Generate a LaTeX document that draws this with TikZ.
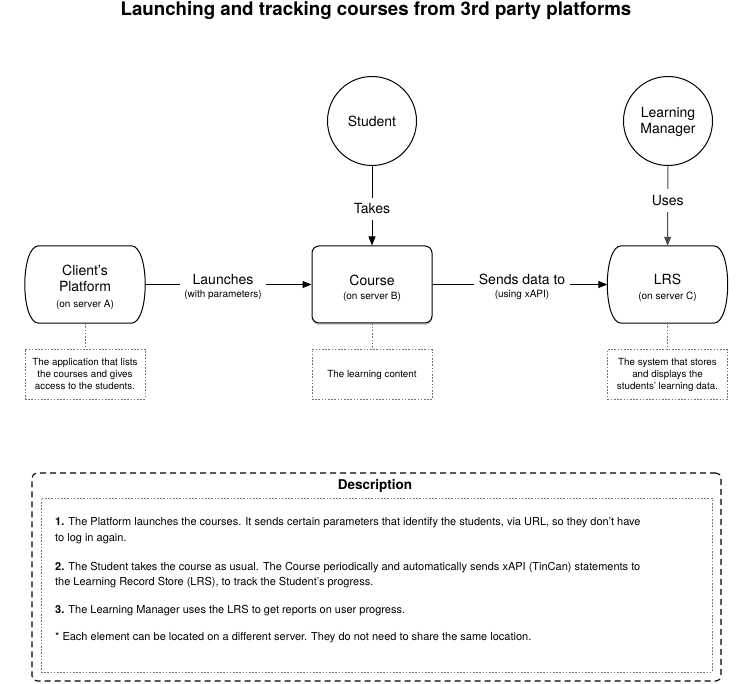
\documentclass[tikz,border=0pt]{standalone}
\usepackage{fontspec}
\setmainfont{TeX Gyre Heros}
\usetikzlibrary{arrows.meta,shadows,calc}
\begin{document}
\begin{tikzpicture}[x=1pt,y=-1pt,
  big/.style={font=\fontsize{14}{15.5}\selectfont},
  arr/.style={-{Triangle[length=9pt,width=7pt]}, line width=1pt},
  lbl/.style={fill=white, text=black, inner xsep=4.5pt, inner ysep=6pt, align=center, font=\fontsize{14}{15.5}\selectfont},
  circ/.style={circle, draw, line width=1pt, minimum size=89pt, inner sep=0pt, align=center, font=\fontsize{14}{16}\selectfont},
  boxnode/.style={minimum width=120pt, minimum height=77pt, inner sep=0pt, align=center, font=\fontsize{14}{15.5}\selectfont},
  note/.style={draw=black!55, line width=0.8pt, dash pattern=on 1.6pt off 1.6pt, minimum width=120pt, minimum height=50pt, inner sep=0pt, align=center, font=\fontsize{9.8}{12}\selectfont},
  dotline/.style={draw=black!55, line width=0.8pt, dash pattern=on 1.6pt off 1.6pt},
  desc/.style={anchor=base west, inner sep=0pt, font=\fontsize{11}{13}\selectfont},
]
\newcommand\subt[1]{{\fontsize{10}{12}\selectfont #1}}
\newcommand\dshape[1]{%
  \draw[line width=1pt] ($(#1.north west)+(14,0)$) -- ($(#1.north east)+(-14,0)$)
    .. controls ($(#1.north east)+(4.67,0)$) and ($(#1.south east)+(4.67,0)$) .. ($(#1.south east)+(-14,0)$)
    -- ($(#1.south west)+(14,0)$)
    .. controls ($(#1.south west)+(-4.67,0)$) and ($(#1.north west)+(-4.67,0)$) .. cycle;}
\useasboundingbox (0,0) rectangle (741,684);
\fill[white] (0,0) rectangle (741,684);

\node[font=\bfseries\fontsize{18.7}{22}\selectfont] (title) at (376,11) {Launching and tracking courses from 3rd party platforms};

% actors
\node[circ] (student) at (372,121) {Student};
\node[circ] (manager) at (668,121) {\rule{0pt}{13pt}Learning\\Manager};

% main boxes
\node[boxnode] (client) at (85,284.5) {\rule{0pt}{17pt}Client’s\\Platform\\[1pt]\subt{(on server A)}};
\dshape{client}
\node[boxnode, draw, line width=1pt, rounded corners=7pt, fill=white,
  drop shadow={shadow xshift=0pt, shadow yshift=-2pt, opacity=0.3, fill=black!60}] (course) at (372,284.5) {\rule{0pt}{18pt}Course\\[-2pt]\subt{(on server B)}};
\node[boxnode] (lrs) at (667.5,284.5) {\rule{0pt}{17pt}LRS\\[-1pt]\subt{(on server C)}};
\dshape{lrs}

% connectors
\draw[arr] (client) -- (course);
\node[lbl] (lbllaunch) at (223,287) {Launches\\[-2pt]\subt{(with parameters)}};
\draw[arr] (course) -- (lrs);
\node[lbl] (lblsend) at (522,287) {Sends data to\\[-2pt]\subt{(using xAPI)}};
\draw[arr] (student) -- node[lbl, pos=0.54] (lbltakes) {Takes} (course);
\draw[arr, black!70] (manager) -- node[lbl, pos=0.43] (lbluses) {Uses} (lrs);

% notes
\node[note] (cnote) at (85,374) {The application that lists\\the courses and gives\\access to the students.};
\node[note] (knote) at (372,374.5) {The learning content};
\node[note] (lnote) at (667.5,374.5) {The system that stores\\and displays the\\students’ learning data.};
\draw[dotline] (client) -- (cnote);
\draw[dotline] (course) -- (knote);
\draw[dotline] (lrs) -- (lnote);

% description
\node[draw, line width=1.1pt, dash pattern=on 6pt off 4pt, rounded corners=5pt, minimum width=689pt, minimum height=208pt] (descbox) at (376.5,577) {};
\node[draw=black!55, line width=0.8pt, dash pattern=on 1.6pt off 1.6pt, minimum width=671pt, minimum height=174pt] (descinner) at (376.5,585) {};
\node[font=\bfseries\fontsize{13.5}{16}\selectfont] (deschead) at (375,485.5) {Description};
\node[desc] (d1a) at (55,525) {\textbf{1.} The Platform launches the courses. It sends certain parameters that identify the students, via URL, so they don’t have};
\node[desc] (d1b) at (55,541) {to log in again.};
\node[desc] (d2a) at (55,570) {\textbf{2.} The Student takes the course as usual. The Course periodically and automatically sends xAPI (TinCan) statements to};
\node[desc] (d2b) at (55,585) {the Learning Record Store (LRS), to track the Student’s progress.};
\node[desc] (d3) at (55,613) {\textbf{3.} The Learning Manager uses the LRS to get reports on user progress.};
\node[desc] (d4) at (55,640) {* Each element can be located on a different server. They do not need to share the same location.};
\end{tikzpicture}
\end{document}
